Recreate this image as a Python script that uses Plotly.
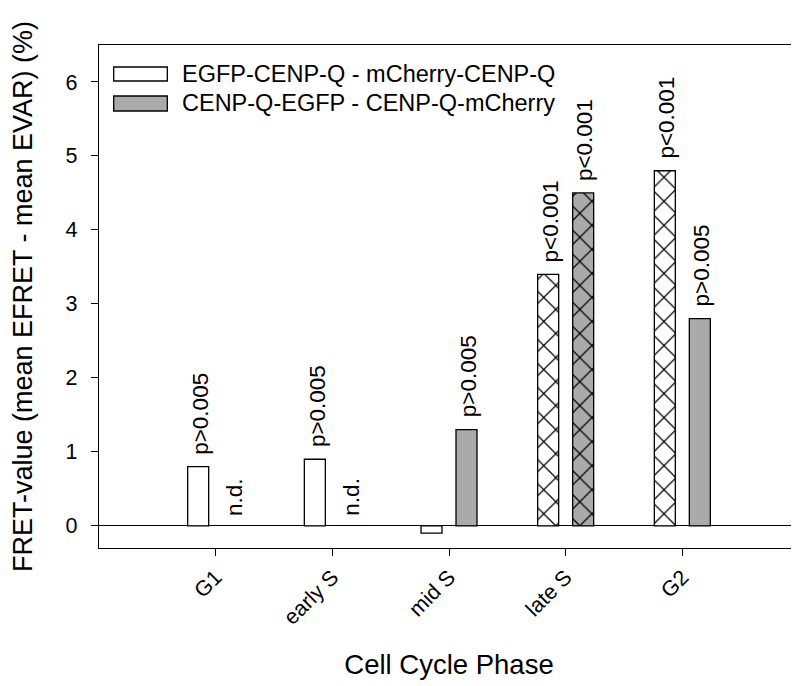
import plotly.graph_objects as go

phases = ["G1", "early S", "mid S", "late S", "G2"]
series_names = ["EGFP-CENP-Q - mCherry-CENP-Q", "CENP-Q-EGFP - CENP-Q-mCherry"]
egfp_first = [0.8, 0.9, -0.1, 3.4, 4.8]
cenp_first = [None, None, 1.3, 4.5, 2.8]
egfp_first_labels = ["p>0.005", "p>0.005", "", "p<0.001", "p<0.001"]
cenp_first_labels = ["n.d.", "n.d.", "p>0.005", "p<0.001", "p>0.005"]
egfp_first_hatch = ["", "", "", "x", "x"]
cenp_first_hatch = ["", "", "", "x", ""]
y_ticks = [0, 1, 2, 3, 4, 5, 6]

FONT = "Liberation Sans, Arial, Helvetica, sans-serif"
GREY = "#aaaaaa"

fig = go.Figure()
fig.add_trace(go.Bar(
    x=phases, y=egfp_first, name=series_names[0], showlegend=False,
    marker=dict(color="white", line=dict(color="black", width=1.3),
                pattern=dict(shape=egfp_first_hatch, fgcolor="black", bgcolor="white",
                             size=17, solidity=0.14, fillmode="replace")),
))
fig.add_trace(go.Bar(
    x=phases, y=cenp_first, name=series_names[1], showlegend=False,
    marker=dict(color=GREY, line=dict(color="black", width=1.3),
                pattern=dict(shape=cenp_first_hatch, fgcolor="black", bgcolor=GREY,
                             size=17, solidity=0.14, fillmode="replace")),
))

annotations = []
SHIFT = 17.5
for vals, labels, dx in [(egfp_first, egfp_first_labels, -SHIFT), (cenp_first, cenp_first_labels, SHIFT)]:
    for ph, v, lab in zip(phases, vals, labels):
        if not lab:
            continue
        base = 0 if v is None else max(v, 0)
        annotations.append(dict(
            x=ph, y=base, xref="x", yref="y", text=lab, showarrow=False,
            textangle=-90, xanchor="center", yanchor="bottom",
            xshift=dx + 2, yshift=(8 if v is None else 10),
            font=dict(family=FONT, size=22.5, color="black"),
        ))

# legend (drawn manually to mimic the wide swatches)
legend_colors = ["white", GREY]
legend_y = [(0.9284, 0.9563), (0.8688, 0.8986)]
shapes = []
for i, name in enumerate(series_names):
    y0, y1 = legend_y[i]
    shapes.append(dict(type="rect", xref="paper", yref="paper", x0=0.021, x1=0.0976,
                       y0=y0, y1=y1, fillcolor=legend_colors[i],
                       line=dict(color="black", width=1.3)))
    annotations.append(dict(x=0.116, y=(y0 + y1) / 2, xref="paper", yref="paper",
                            text=name, showarrow=False, xanchor="left", yanchor="middle",
                            font=dict(family=FONT, size=23.5, color="black")))

fig.update_layout(
    width=799, height=686,
    margin=dict(l=91, r=8, t=37, b=146),
    paper_bgcolor="white", plot_bgcolor="white",
    barmode="group", bargap=0.4, bargroupgap=0.4,
    font=dict(family=FONT, size=22, color="black"),
    annotations=annotations, shapes=shapes,
    xaxis=dict(
        type="category", range=[-1, 5], showgrid=False, zeroline=False,
        showline=True, mirror=True, linecolor="black", linewidth=1.3,
        ticks="outside", ticklen=7, tickwidth=1.3, tickcolor="black",
        tickangle=-45, tickfont=dict(family=FONT, size=21.5),
        title=dict(text="Cell Cycle Phase", font=dict(family=FONT, size=27.5), standoff=26),
    ),
    yaxis=dict(
        range=[-0.3, 6.5], tickvals=y_ticks, showgrid=False,
        zeroline=True, zerolinecolor="black", zerolinewidth=1.3,
        showline=True, mirror=True, linecolor="black", linewidth=1.3,
        ticks="outside", ticklen=7, tickwidth=1.3, tickcolor="black",
        tickfont=dict(family=FONT, size=21.5), ticklabelstandoff=9,
        title=dict(text="FRET-value (mean EFRET - mean EVAR) (%)",
                   font=dict(family=FONT, size=27), standoff=28),
    ),
)

fig.write_html("out.html")
